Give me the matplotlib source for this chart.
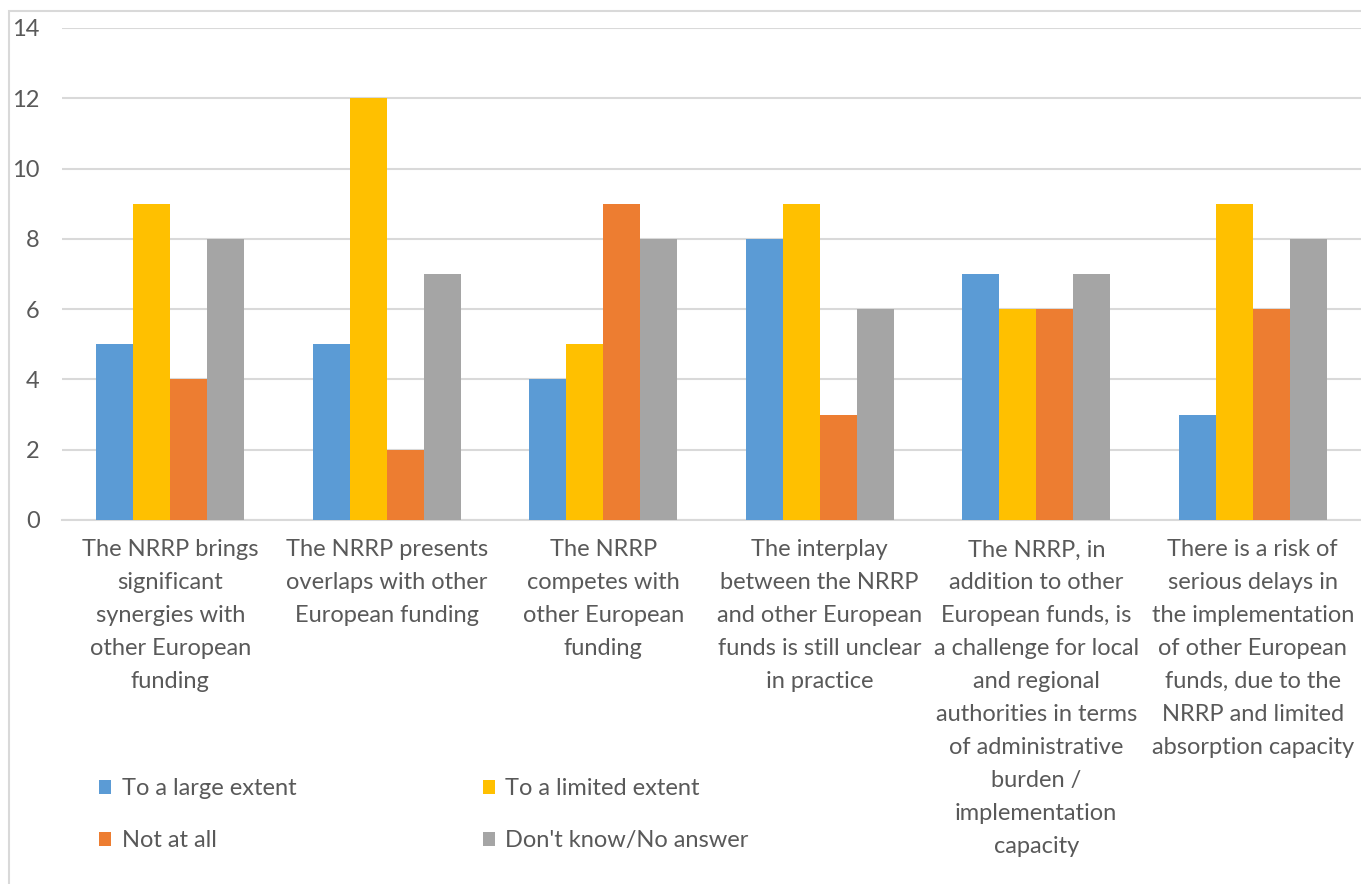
import matplotlib
matplotlib.use("Agg")
import matplotlib.pyplot as plt
import numpy as np
from matplotlib.patches import Rectangle

categories = [
    "The NRRP brings\nsignificant\nsynergies with\nother European\nfunding",
    "The NRRP presents\noverlaps with other\nEuropean funding",
    "The NRRP\ncompetes with\nother European\nfunding",
    "The interplay\nbetween the NRRP\nand other European\nfunds is still unclear\nin practice",
    "The NRRP, in\naddition to other\nEuropean funds, is\na challenge for local\nand regional\nauthorities in terms\nof administrative\nburden /\nimplementation\ncapacity",
    "There is a risk of\nserious delays in\nthe implementation\nof other European\nfunds, due to the\nNRRP and limited\nabsorption capacity",
]
series_names = ["To a large extent", "To a limited extent", "Not at all", "Don't know/No answer"]
large = [5, 5, 4, 8, 7, 3]
limited = [9, 12, 5, 9, 6, 9]
not_at_all = [4, 2, 9, 3, 6, 6]
dont_know = [8, 7, 8, 6, 7, 8]
yticks = [0, 2, 4, 6, 8, 10, 12, 14]

colors = ["#5B9BD5", "#FFC000", "#ED7D31", "#A5A5A5"]
text_color = "#595959"
grid_color = "#D9D9D9"
font = "Lato"

fig = plt.figure(figsize=(13.61, 8.84), dpi=100)
W, H = 1361, 884
ax = fig.add_axes([62 / W, 1 - 520 / H, (W - 62) / W, (520 - 28) / H])

x = np.arange(len(categories))
bw = 0.171
data = [large, limited, not_at_all, dont_know]
bars = []
for i, (vals, c, name) in enumerate(zip(data, colors, series_names)):
    b = ax.bar(x + (i - 1.5) * bw, vals, width=bw, color=c, label=name, zorder=3)
    bars.append(b)

ax.set_xlim(-0.5, len(categories) - 0.5)
ax.set_ylim(0, 14)
ax.set_yticks(yticks)
ax.set_yticklabels([str(v) for v in yticks], fontsize=17, color=text_color, family=font)
ax.yaxis.grid(True, color=grid_color, linewidth=1.5, zorder=0)
ax.tick_params(axis="y", length=0, pad=16)
ax.tick_params(axis="x", length=0, pad=14)
ax.set_xticks(x)
ax.set_xticklabels(categories, fontsize=17, color=text_color, family=font, linespacing=1.7, va="top")
for s in ["top", "right", "left"]:
    ax.spines[s].set_visible(False)
ax.spines["bottom"].set_color(grid_color)
ax.spines["bottom"].set_linewidth(1.5)

# legend order row-wise: large, limited / not at all, don't know
order = [0, 2, 1, 3]
leg = fig.legend([bars[i] for i in order], [series_names[i] for i in order],
                 loc="upper left", bbox_to_anchor=(78 / W, 1 - 757 / H),
                 ncol=2, frameon=False, handlelength=0.5, handleheight=0.5,
                 handletextpad=0.45, columnspacing=7.9, labelspacing=1.31,
                 prop={"family": font, "size": 17})
for t in leg.get_texts():
    t.set_color(text_color)

fig.patches.append(Rectangle((9 / W, -0.1), 1.2, 1.1 - 11 / H, transform=fig.transFigure,
                             fill=False, edgecolor=grid_color, linewidth=1.5))

fig.savefig("out.png", dpi=100)
